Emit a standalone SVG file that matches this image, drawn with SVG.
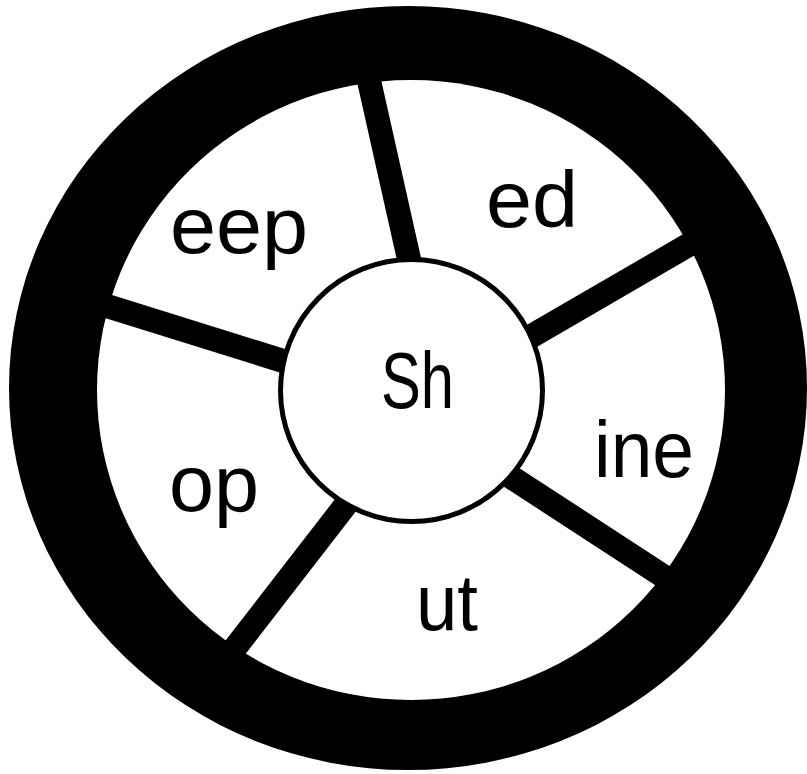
<svg xmlns="http://www.w3.org/2000/svg" width="807" height="774" viewBox="0 0 807 774">
  <style>
    .lbl { font-family: "Liberation Sans", Arial, sans-serif; font-size: 80px; fill: #000; }
    .spoke { stroke: #000; stroke-width: 24; stroke-linecap: butt; fill: none; }
  </style>
  <rect x="0" y="0" width="807" height="774" fill="#fff"/>
  <g id="wheel-rim">
    <ellipse cx="408" cy="388" rx="399" ry="382" fill="#000"/>
    <ellipse cx="411" cy="390" rx="314" ry="310" fill="#fff"/>
  </g>
  <g id="connectors">
    <line class="spoke" x1="412.9" y1="276.5" x2="366.7" y2="70.4"/>
    <line class="spoke" x1="516.2" y1="345" x2="700.5" y2="238"/>
    <line class="spoke" x1="495.7" y1="467" x2="674.1" y2="583.2"/>
    <line class="spoke" x1="356.7" y1="490.7" x2="227.3" y2="657.9"/>
    <line class="spoke" x1="299.1" y1="366" x2="95.7" y2="302.5"/>
  </g>
  <g id="hub">
    <circle cx="411.5" cy="390.5" r="131" fill="#fff" stroke="#000" stroke-width="5"/>
    <text class="lbl" x="381" y="408" font-size="74" textLength="73" lengthAdjust="spacingAndGlyphs">Sh</text>
  </g>
  <g id="seg-eep">
    <text class="lbl" x="170" y="253" textLength="138" lengthAdjust="spacingAndGlyphs">eep</text>
  </g>
  <g id="seg-ed">
    <text class="lbl" x="486" y="227" textLength="92" lengthAdjust="spacingAndGlyphs">ed</text>
  </g>
  <g id="seg-ine">
    <text class="lbl" x="594" y="477" textLength="100" lengthAdjust="spacingAndGlyphs">ine</text>
  </g>
  <g id="seg-ut">
    <text class="lbl" x="416" y="630" textLength="62" lengthAdjust="spacingAndGlyphs">ut</text>
  </g>
  <g id="seg-op">
    <text class="lbl" x="169" y="511" textLength="90" lengthAdjust="spacingAndGlyphs">op</text>
  </g>
</svg>
